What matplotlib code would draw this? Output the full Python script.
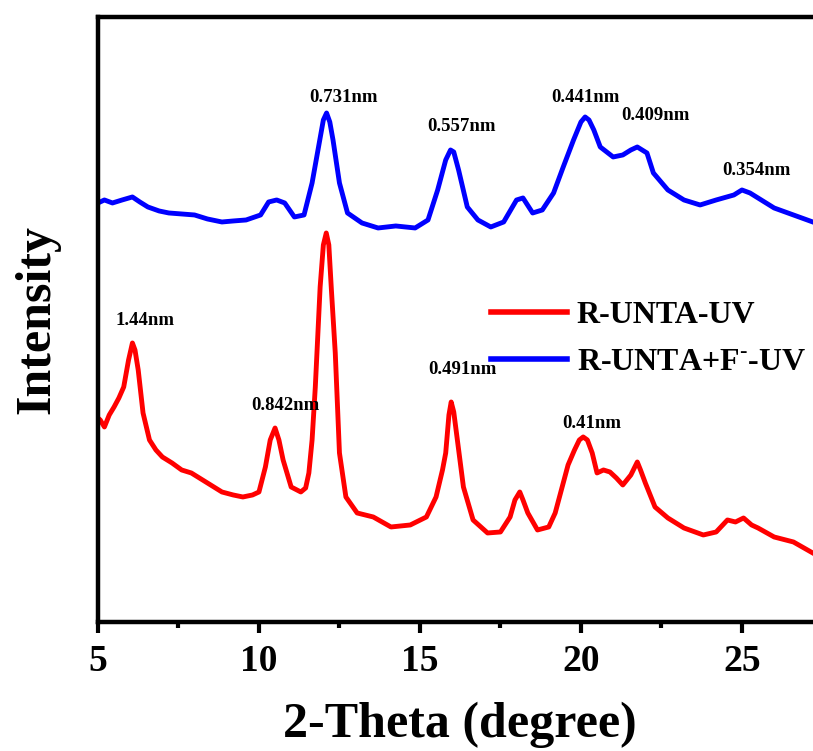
import matplotlib
matplotlib.use("Agg")
import matplotlib.pyplot as plt

# 2-Theta / intensity values (arbitrary units)
theta_red = [5.0, 5.07, 5.2, 5.35, 5.5, 5.65, 5.8, 5.95, 6.07, 6.15, 6.25, 6.4, 6.6,
             6.8, 7.0, 7.3, 7.6, 7.9, 8.25, 8.55, 8.85, 9.2, 9.5, 9.8, 10.0, 10.2,
             10.35, 10.5, 10.62, 10.75, 11.0, 11.3, 11.45, 11.55, 11.65, 11.75, 11.9,
             12.0, 12.09, 12.17, 12.25, 12.37, 12.5, 12.7, 13.05, 13.55, 14.1, 14.7,
             15.2, 15.5, 15.7, 15.8, 15.9, 15.97, 16.05, 16.15, 16.35, 16.65, 17.1,
             17.5, 17.8, 17.95, 18.1, 18.2, 18.35, 18.65, 19.0, 19.2, 19.35, 19.6,
             19.8, 19.95, 20.07, 20.2, 20.35, 20.5, 20.7, 20.9, 21.1, 21.3, 21.55,
             21.75, 21.85, 22.0, 22.3, 22.7, 23.2, 23.8, 24.2, 24.55, 24.8, 25.05,
             25.3, 25.5, 26.0, 26.6, 27.2]
int_red = [204, 202, 195, 207, 215, 224, 235, 262, 279, 272, 252, 209, 182,
           172, 165, 159, 152, 149, 142, 136, 130, 127, 125, 127, 130, 155,
           182, 194, 182, 162, 135, 130, 134, 149, 182, 235, 335,
           377, 389, 377, 332, 269, 169, 125, 109, 105, 95, 97,
           105, 125, 152, 169, 207, 220, 210, 185, 135, 102, 89,
           90, 105, 122, 130, 122, 109, 92, 95, 109, 127, 157,
           172, 182, 185, 182, 169, 149, 152, 150, 144, 137, 147,
           160, 152, 139, 115, 104, 94, 87, 90, 102, 100, 104,
           97, 94, 85, 80, 69]

theta_blue = [5.0, 5.2, 5.45, 5.75, 6.07, 6.3, 6.55, 6.9, 7.2, 7.6, 8.0, 8.4, 8.85,
              9.2, 9.6, 10.05, 10.3, 10.55, 10.8, 11.1, 11.4, 11.65, 11.85, 12.0,
              12.1, 12.2, 12.3, 12.5, 12.75, 13.2, 13.7, 14.25, 14.85, 15.25, 15.55,
              15.8, 15.95, 16.05, 16.2, 16.47, 16.8, 17.2, 17.6, 18.0, 18.2, 18.5,
              18.8, 19.15, 19.45, 19.77, 20.0, 20.13, 20.25, 20.4, 20.6, 21.0, 21.3,
              21.55, 21.75, 22.05, 22.25, 22.7, 23.2, 23.7, 24.2, 24.75, 25.0, 25.25,
              25.5, 26.0, 26.6, 27.2]
int_blue = [419, 422, 419, 422, 425, 420, 415, 411, 409, 408, 407, 403, 400,
            401, 402, 407, 420, 422, 419, 405, 407, 439, 475, 502,
            509, 500, 482, 439, 409, 399, 394, 396, 394, 402, 432,
            462, 472, 470, 452, 415, 402, 395, 400, 422, 424, 409,
            412, 429, 455, 482, 500, 505, 502, 492, 475, 465, 467,
            472, 475, 469, 449, 432, 422, 417, 422, 427, 432, 429,
            424, 414, 407, 400]

series_labels = ["R-UNTA-UV", r"R-UNTA+F$^{\text{-}}$-UV"]

# d-spacing labels: (text, 2-theta, intensity)
notes_text = ["1.44nm", "0.842nm", "0.491nm", "0.41nm",
              "0.731nm", "0.557nm", "0.441nm", "0.409nm", "0.354nm"]
notes_x = [6.47, 10.82, 16.32, 20.35, 12.62, 16.29, 20.13, 22.3, 25.45]
notes_y = [301, 216, 252, 198, 524, 495, 524, 506, 451]

x_ticks = [5, 10, 15, 20, 25]


def main():
    plt.rcParams["font.family"] = ["Liberation Serif", "DejaVu Serif"]
    plt.rcParams["font.weight"] = "bold"
    plt.rcParams["mathtext.fontset"] = "custom"
    plt.rcParams["mathtext.rm"] = "Liberation Serif:bold"
    plt.rcParams["mathtext.bf"] = "Liberation Serif:bold"

    fig = plt.figure(figsize=(8.13, 7.51), dpi=100)
    ax = fig.add_axes([0.1205, 0.1718, 0.8911, 0.8056])

    ax.plot(theta_red, int_red, color="#ff0000", lw=3.5, label=series_labels[0])
    ax.plot(theta_blue, int_blue, color="#0000ff", lw=3.5, label=series_labels[1])

    for txt, xx, yy in zip(notes_text, notes_x, notes_y):
        ax.text(xx, yy, txt, fontsize=13.5, fontweight="bold",
                ha="center", va="center")

    ax.set_xlim(5, 27.5)
    ax.set_ylim(0, 605)
    ax.set_xticks(x_ticks)
    ax.set_xticks([7.5, 12.5, 17.5, 22.5, 27.5], minor=True)
    ax.set_yticks([])

    for side in ["left", "bottom", "top"]:
        ax.spines[side].set_linewidth(3.2)
    ax.spines["right"].set_visible(False)

    ax.tick_params(axis="x", which="major", direction="out", length=8,
                   width=3, labelsize=27, pad=8)
    ax.tick_params(axis="x", which="minor", direction="out", length=4, width=3)
    for lab in ax.get_xticklabels():
        lab.set_fontweight("bold")

    ax.set_xlabel("2-Theta (degree)", fontsize=36, fontweight="bold", labelpad=16)
    ax.set_ylabel("Intensity", fontsize=36, fontweight="bold", labelpad=27)

    leg = ax.legend(loc="upper left", bbox_to_anchor=(0.52, 0.558), frameon=False,
                    prop={"size": 23, "weight": "bold"}, handlelength=2.4,
                    handletextpad=0.3, labelspacing=0.57, borderpad=0)
    for line in leg.get_lines():
        line.set_linewidth(4)

    fig.savefig("out.png", dpi=100)
    plt.close(fig)


if __name__ == "__main__":
    main()
